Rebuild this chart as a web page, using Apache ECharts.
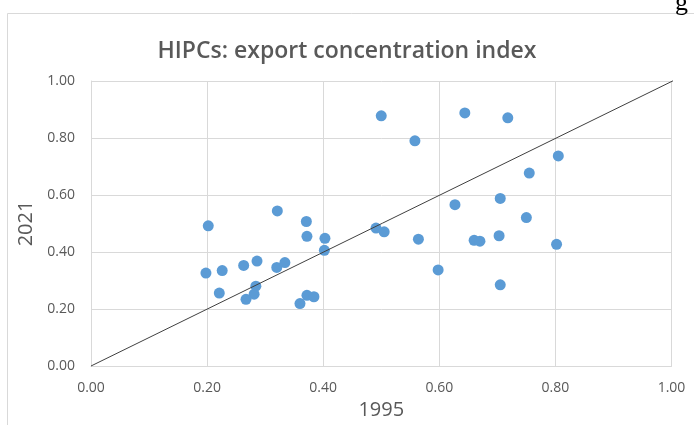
<!DOCTYPE html>
<html><head><meta charset="utf-8">
<script src="https://cdn.jsdelivr.net/npm/echarts@6/dist/echarts.min.js"></script>
<style>html,body{margin:0;padding:0;background:#fff}#c{width:694px;height:425px}</style>
</head><body><div id="c"></div>
<script>
const titleText = 'HIPCs: export concentration index';
const xName = '1995';
const yName = '2021';
const x1995 = [0.202,0.321,0.371,0.372,0.403,0.402,0.198,0.226,0.263,0.286,0.320,0.334,0.221,0.284,0.281,0.267,0.360,0.372,0.384,
  0.500,0.644,0.718,0.558,
  0.805,0.755,0.705,0.750,0.703,0.660,0.670,0.802,0.705,
  0.491,0.505,0.564,0.627,0.598];
const y2021 = [0.492,0.544,0.507,0.455,0.448,0.406,0.326,0.335,0.353,0.368,0.346,0.363,0.256,0.280,0.252,0.234,0.219,0.248,0.243,
  0.878,0.888,0.871,0.790,
  0.737,0.677,0.588,0.521,0.457,0.441,0.438,0.427,0.285,
  0.484,0.471,0.445,0.566,0.337];
const diagX = [0, 1.006];
const diagY = [0, 1.004];
const axisMin = 0, axisMax = 1, axisStep = 0.2;

const pts = x1995.map((v,i)=>[v,y2021[i]]);
const diag = diagX.map((v,i)=>[v,diagY[i]]);
const FONT = '"Open Sans", sans-serif';
const chart = echarts.init(document.getElementById('c'));
chart.setOption({
  animation:false,
  backgroundColor:'#fff',
  graphic:[
    {type:'rect', shape:{x:7.5,y:13.5,width:700,height:420}, style:{fill:'#fff',stroke:'#d9d9d9',lineWidth:1}, z:-10},
    {type:'text', x:675, y:16, style:{text:'g', font:'26px "Liberation Serif"', fill:'#000', verticalAlign:'bottom', align:'left'}}
  ],
  title:{text:titleText, left:'center', top:35, textStyle:{fontFamily:FONT, fontSize:23, fontWeight:'600', color:'#595959'}},
  grid:{left:91, right:22.5, top:81, bottom:56.5},
  xAxis:{type:'value', min:axisMin, max:axisMax, interval:axisStep, name:xName, nameLocation:'middle', nameGap:34,
    nameTextStyle:{fontFamily:FONT, fontSize:20, color:'#595959'},
    axisLine:{show:true, lineStyle:{color:'#d9d9d9'}}, axisTick:{show:false},
    axisLabel:{fontFamily:FONT, fontSize:14, color:'#595959', margin:15, formatter:v=>v.toFixed(2)},
    splitLine:{lineStyle:{color:'#d9d9d9', width:1}}},
  yAxis:{type:'value', min:axisMin, max:axisMax, interval:axisStep, name:yName, nameLocation:'middle', nameGap:55,
    nameTextStyle:{fontFamily:FONT, fontSize:20, color:'#595959'},
    axisLine:{show:true, lineStyle:{color:'#d9d9d9'}}, axisTick:{show:false},
    axisLabel:{fontFamily:FONT, fontSize:14, color:'#595959', margin:16, formatter:v=>v.toFixed(2)},
    splitLine:{lineStyle:{color:'#d9d9d9', width:1}}},
  series:[
    {type:'line', data:diag, symbol:'none', clip:false, lineStyle:{color:'#404040', width:1}, z:3},
    {type:'scatter', data:pts, symbolSize:11, itemStyle:{color:'#5B9BD5', opacity:1}, z:2}
  ]
});
</script></body></html>
